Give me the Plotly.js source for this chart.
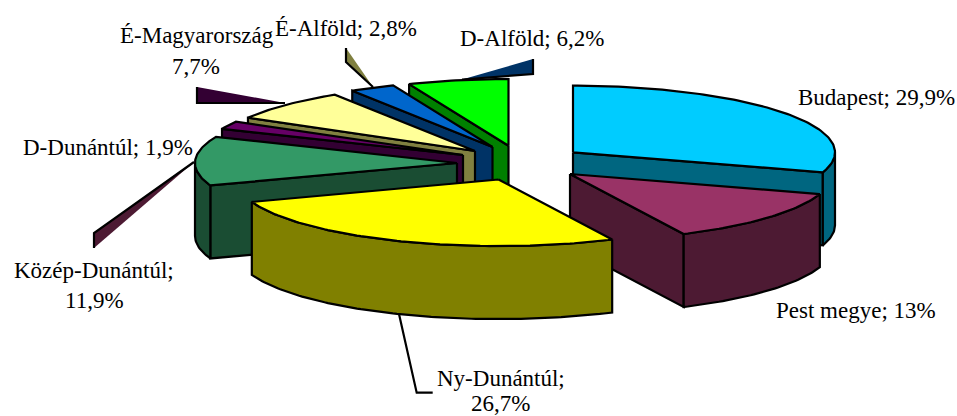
<!DOCTYPE html>
<html>
<head>
<meta charset="utf-8">
<script src="https://cdn.plot.ly/plotly-3.0.1.min.js"></script>
<style>html,body{margin:0;padding:0;background:#fff}</style>
</head>
<body>
<div id="chart" style="width:957px;height:416px"></div>
<script>
// Regional shares in percent, clockwise from twelve o'clock
const regions = ["Budapest", "Pest megye", "Ny-Dunántúl", "Közép-Dunántúl", "D-Dunántúl", "É-Magyarország", "É-Alföld", "D-Alföld"];
const shares = [29.9, 13, 26.7, 11.9, 1.9, 7.7, 2.8, 6.2];

// Slice colours
const topColors = ["#00CCFF", "#993366", "#FFFF00", "#339966", "#660066", "#FFFF99", "#0066CC", "#00FF00"];
const sideColors = ["#006680", "#4D1A33", "#808000", "#1A4D33", "#330033", "#808040", "#003366", "#008000"];

// Exploded position of each slice's tip, in page pixels
const tipX = [573, 570, 498.5, 457, 463, 475, 492.5, 508.5];
const tipY = [152.3, 174, 179.5, 163, 155, 151, 147, 145.7];

// Tilted disc proportions
const radiusX = 262, radiusY = 66.6, depth = 73;

// Painting order, far slices first
const paintOrder = [0, 1, 7, 6, 5, 4, 3, 2];

// Data label placement: one entry per text line
const pct = i => String(shares[i]).replace(".", ",") + "%";
const labelLines = [
  {text: regions[0] + "; " + pct(0), x: 876, y: 97},
  {text: regions[1] + "; " + pct(1), x: 856, y: 310},
  {text: regions[2] + ";", x: 501, y: 378},
  {text: pct(2), x: 500, y: 403},
  {text: regions[3] + ";", x: 94, y: 270},
  {text: pct(3), x: 94, y: 300},
  {text: regions[4] + "; " + pct(4), x: 108, y: 147},
  {text: regions[5], x: 197, y: 35},
  {text: pct(5), x: 196, y: 66},
  {text: regions[6] + "; " + pct(6), x: 346, y: 28},
  {text: regions[7] + "; " + pct(7), x: 532, y: 38}
];

// Leader lines from labels to slices; their open ends are closed by the fill
const leaders = [
  {x: [462, 533, 533], y: [79.5, 74, 59], fill: "#003366"},
  {x: [346, 346, 373], y: [48, 62, 87], fill: "#808040"},
  {x: [197, 197, 285], y: [87, 103, 103], fill: "#330033"},
  {x: [194, 94, 94], y: [162, 233, 248], fill: "#4D1A33"},
  {x: [399, 416.7, 432.7], y: [314, 392.7, 392.7], fill: null}
];

const lineColor = "#000000", lineWidth = 2.2;

function polygon(pts, fill) {
  return {
    type: "scatter", mode: "lines", hoverinfo: "skip", showlegend: false,
    x: pts.map(p => p[0]), y: pts.map(p => p[1]),
    fill: "toself", fillcolor: fill,
    line: {color: lineColor, width: lineWidth, shape: "linear"}
  };
}

const total = shares.reduce((a, b) => a + b, 0);
const startAngle = [];
let running = 0;
shares.forEach(s => { startAngle.push(running); running += s / total * 360; });

function rimPoint(i, deg, drop) {
  const r = deg * Math.PI / 180;
  return [tipX[i] + radiusX * Math.sin(r), tipY[i] - radiusY * Math.cos(r) + drop];
}
function arc(i, from, to, drop) {
  const n = Math.max(2, Math.ceil(Math.abs(to - from)));
  const out = [];
  for (let k = 0; k <= n; k++) out.push(rimPoint(i, from + (to - from) * k / n, drop));
  return out;
}

const traces = [];

leaders.forEach(l => traces.push({
  type: "scatter", mode: "lines", hoverinfo: "skip", showlegend: false,
  x: l.x, y: l.y,
  fill: l.fill ? "toself" : "none", fillcolor: l.fill || undefined,
  line: {color: lineColor, width: lineWidth}
}));

paintOrder.forEach(i => {
  const a1 = startAngle[i], a2 = a1 + shares[i] / total * 360;
  const tip = [tipX[i], tipY[i]], tipLow = [tipX[i], tipY[i] + depth];
  // Cut faces turned towards the viewer
  if (a1 > 180) {
    traces.push(polygon([tip, rimPoint(i, a1, 0), rimPoint(i, a1, depth), tipLow, tip], sideColors[i]));
  }
  if (a2 < 180) {
    traces.push(polygon([tip, rimPoint(i, a2, 0), rimPoint(i, a2, depth), tipLow, tip], sideColors[i]));
  }
  // Outer wall, only the near half of the disc
  const from = Math.max(a1, 90), to = Math.min(a2, 270);
  if (to > from) {
    const upper = arc(i, from, to, 0), lower = arc(i, to, from, depth);
    traces.push(polygon(upper.concat(lower, [upper[0]]), sideColors[i]));
  }
  // Top face
  traces.push(polygon([tip].concat(arc(i, a1, a2, 0), [tip]), topColors[i]));
});

const layout = {
  width: 957, height: 416,
  margin: {l: 0, r: 0, t: 0, b: 0},
  paper_bgcolor: "#ffffff", plot_bgcolor: "#ffffff",
  showlegend: false,
  xaxis: {range: [0, 957], visible: false, fixedrange: true},
  yaxis: {range: [416, 0], visible: false, fixedrange: true},
  annotations: labelLines.map(l => ({
    x: l.x, y: l.y, xref: "x", yref: "y", text: l.text, showarrow: false,
    xanchor: "center", yanchor: "middle",
    font: {family: "'Liberation Serif', 'Times New Roman', serif", size: 23, color: "#000000"}
  }))
};

Plotly.newPlot("chart", traces, layout, {staticPlot: true, displayModeBar: false});
</script>
</body>
</html>
